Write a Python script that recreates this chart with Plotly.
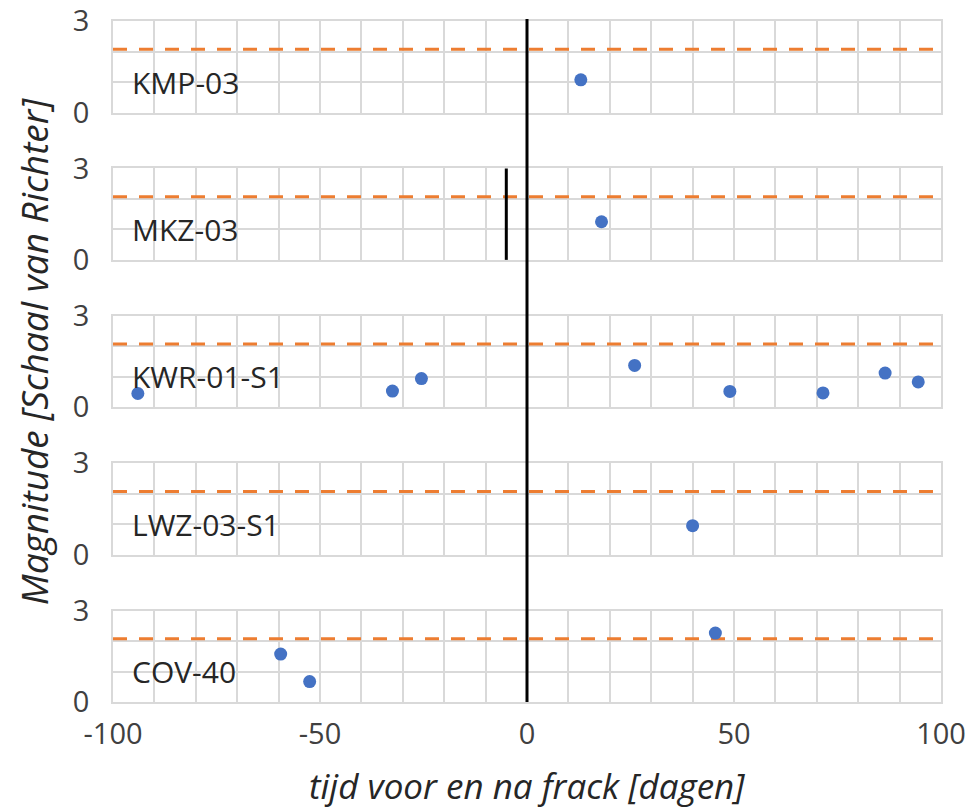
import plotly.graph_objects as go

# ---- data ----
wells = ["KMP-03", "MKZ-03", "KWR-01-S1", "LWZ-03-S1", "COV-40"]
event_days = [
    [13],
    [18],
    [-94, -32.5, -25.5, 26, 49, 71.5, 86.5, 94.5],
    [40],
    [-59.5, -52.5, 45.5],
]
event_mags = [
    [1.07],
    [1.25],
    [0.45, 0.53, 0.94, 1.37, 0.52, 0.47, 1.12, 0.83],
    [0.95],
    [1.57, 0.67, 2.26],
]
threshold_mag = 2.07
frack_day = 0
mkz_line_day = -5
mkz_line_top = 3.1
x_range = [-100, 100]
y_range = [0, 3]
x_tick_vals = [-100, -50, 0, 50, 100]
x_tick_text = ["-100", "-50", "0", "50", "100"]

# ---- style ----
FONT = "Open Sans"
TXT = "#404040"
GRID = "#d9d9d9"
BLUE = "#4472C4"
ORANGE = "#ED7D31"

W, H = 973, 809
ML, MR, MT, MB = 113, 32, 21, 107
plot_h = H - MT - MB
panel_h = 91.5
gap = (plot_h - 5 * panel_h) / 4

fig = go.Figure()
layout = dict(
    width=W, height=H,
    margin=dict(l=ML, r=MR, t=MT, b=MB, autoexpand=False),
    paper_bgcolor="white", plot_bgcolor="white",
    showlegend=False,
    font=dict(family=FONT, color=TXT, size=29),
)
annotations = []
shapes = []

n = len(wells)
for i in range(n):
    k = i + 1
    xa = "x" if k == 1 else f"x{k}"
    ya = "y" if k == 1 else f"y{k}"
    top = 1 - (i * (panel_h + gap)) / plot_h
    bot = top - panel_h / plot_h
    top = min(top, 1.0)
    bot = max(bot, 0.0)

    fig.add_trace(go.Scatter(
        x=x_range, y=[threshold_mag, threshold_mag], mode="lines",
        line=dict(color=ORANGE, width=3, dash="14px,12px"),
        xaxis=xa, yaxis=ya, hoverinfo="skip"))
    fig.add_trace(go.Scatter(
        x=event_days[i], y=event_mags[i], mode="markers",
        marker=dict(color=BLUE, size=13),
        xaxis=xa, yaxis=ya, cliponaxis=False))

    last = (k == n)
    xkey = "xaxis" if k == 1 else f"xaxis{k}"
    ykey = "yaxis" if k == 1 else f"yaxis{k}"
    layout[xkey] = dict(
        domain=[0, 1], anchor=ya, range=x_range,
        tickmode="array", tickvals=x_tick_vals, ticktext=x_tick_text,
        showgrid=True, gridcolor=GRID, gridwidth=1.5,
        minor=dict(dtick=10, tick0=0, showgrid=True, gridcolor=GRID, gridwidth=1.5),
        showline=True, linecolor=GRID, linewidth=1.5, mirror=True,
        zeroline=False, showticklabels=last, ticks="",
        ticklabelstandoff=5, automargin=False,
        tickfont=dict(size=29, color=TXT, family=FONT),
    )
    if k != 1:
        layout[xkey]["matches"] = "x"
    layout[ykey] = dict(
        domain=[bot, top], anchor=xa, range=y_range,
        dtick=3, tick0=0,
        showgrid=True, gridcolor=GRID, gridwidth=1.5,
        minor=dict(dtick=1, tick0=0, showgrid=True, gridcolor=GRID, gridwidth=1.5),
        showline=True, linecolor=GRID, linewidth=1.5, mirror=True,
        zeroline=False, ticks="", ticklabelstandoff=16, automargin=False,
        tickfont=dict(size=29, color=TXT, family=FONT),
    )
    annotations.append(dict(
        text=wells[i], xref=xa, yref=ya, x=x_range[0] + 4.1, y=1.0,
        xanchor="left", yanchor="middle", showarrow=False,
        font=dict(size=30, color="#262626", family=FONT)))

shapes.append(dict(type="line", xref="x", yref="paper",
                   x0=frack_day, x1=frack_day, y0=0, y1=1.003,
                   line=dict(color="black", width=3), layer="above"))
shapes.append(dict(type="line", xref="x2", yref="y2",
                   x0=mkz_line_day, x1=mkz_line_day, y0=0, y1=mkz_line_top,
                   line=dict(color="black", width=3), layer="above"))

annotations.append(dict(
    text="<i>tijd voor en na frack [dagen]</i>", xref="paper", yref="paper",
    x=0.5, y=-0.122, xanchor="center", yanchor="middle", showarrow=False,
    font=dict(size=35, color="#262626", family=FONT)))
annotations.append(dict(
    text="<i>Magnitude [Schaal van Richter]</i>", xref="paper", yref="paper",
    x=-0.0966, y=0.515, xanchor="center", yanchor="middle", showarrow=False,
    textangle=-90, font=dict(size=37, color="#262626", family=FONT)))

layout["annotations"] = annotations
layout["shapes"] = shapes
fig.update_layout(**layout)
fig.write_html("out.html")
